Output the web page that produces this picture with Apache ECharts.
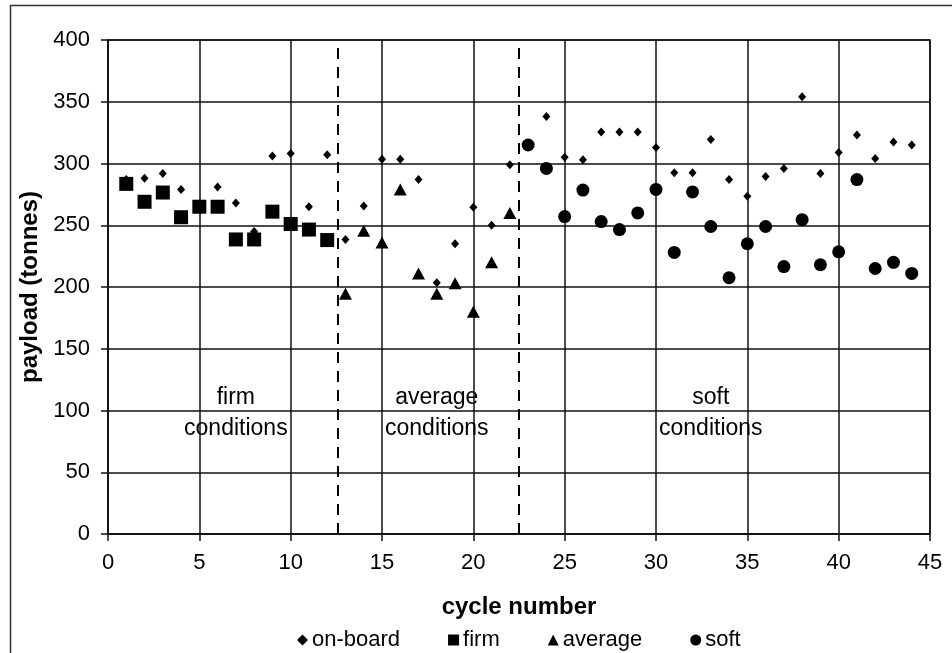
<!DOCTYPE html>
<html>
<head>
<meta charset="utf-8">
<script src="https://cdn.jsdelivr.net/npm/echarts@6/dist/echarts.min.js"></script>
<style>html,body{margin:0;padding:0;background:#fff;}#chart{width:952px;height:653px;}</style>
</head>
<body>
<div id="chart"></div>
<script>
// ---- data ----
const onboardCycles = [1,2,3,4,5,6,7,8,9,10,11,12,13,14,15,16,17,18,19,20,21,22,23,24,25,26,27,28,29,30,31,32,33,34,35,36,37,38,39,40,41,42,43,44];
const onboardPayload = [287,288,292,279,265,281,268,245,306,308,265,307,238.5,265.5,303.5,303.5,287,203.5,235,264.5,250,299,315,338,305,303,325.5,325.5,325.5,313,292.5,292.5,319.5,287,273.5,289.5,296,354,292,309,323,304,317.5,315];

const firmCycles = [1,2,3,4,5,6,7,8,9,10,11,12];
const firmPayload = [283.5,269,276.5,256.5,265,265,238.5,238.5,261,251,246.5,238];

const averageCycles = [13,14,15,16,17,18,19,20,21,22];
const averagePayload = [194.5,245.5,236,279,211,194.5,203,180,220,260];

const softCycles = [23,24,25,26,27,28,29,30,31,32,33,34,35,36,37,38,39,40,41,42,43,44];
const softPayload = [315,296,257,278.5,253,246.5,260,279,228,277,249,207.5,235,249,216.5,254.5,218,228.5,287,215,220,211];

const boundaryCycles = [12.6, 22.5];
const regionLabelX = [7, 18, 33];
const regionLabelY = [98, 98, 98];
const regionLabels = ['firm\nconditions', 'average\nconditions', 'soft\nconditions'];

const xTicks = {min: 0, max: 45, interval: 5};
const yTicks = {min: 0, max: 400, interval: 50};

const seriesNames = ['on-board', 'firm', 'average', 'soft'];

// ---- chart ----
const FONT = "'Liberation Sans', Arial, sans-serif";
const pair = (xs, ys) => xs.map((x, i) => [x, ys[i]]);
const black = {color: '#000', opacity: 1};

const chart = echarts.init(document.getElementById('chart'), null, {renderer: 'canvas'});
chart.setOption({
  animation: false,
  backgroundColor: '#fff',
  textStyle: {fontFamily: FONT},
  graphic: [{
    type: 'rect', left: 8, top: 3, shape: {x: 0, y: 0, width: 1000, height: 700},
    style: {fill: 'none', stroke: '#333', lineWidth: 1.5}, silent: true, z: 0
  }],
  grid: {left: 108, top: 40, right: 22, bottom: 119, show: true, borderColor: '#111', borderWidth: 1.5, backgroundColor: 'transparent'},
  legend: {
    data: seriesNames,
    left: 292, top: 624,
    itemWidth: 11, itemHeight: 11, itemGap: 48,
    textStyle: {fontFamily: FONT, fontSize: 22, color: '#000', padding: [0,0,0,-1]},
    selectedMode: false
  },
  xAxis: {
    type: 'value', min: xTicks.min, max: xTicks.max, interval: xTicks.interval,
    name: 'cycle number', nameLocation: 'middle', nameGap: 61,
    nameTextStyle: {fontFamily: FONT, fontSize: 24, fontWeight: 'bold', color: '#000'},
    axisLine: {show: true, onZero: false, lineStyle: {color: '#111', width: 1.5}},
    axisTick: {show: true, inside: false, length: 7, lineStyle: {color: '#111', width: 1.5}},
    axisLabel: {fontFamily: FONT, fontSize: 22, color: '#000', margin: 18},
    splitLine: {show: true, lineStyle: {color: '#111', width: 1.5}}
  },
  yAxis: {
    type: 'value', min: yTicks.min, max: yTicks.max, interval: yTicks.interval,
    name: 'payload (tonnes)', nameLocation: 'middle', nameGap: 52, nameRotate: 90,
    nameTextStyle: {fontFamily: FONT, fontSize: 24, fontWeight: 'bold', color: '#000'},
    axisLine: {show: true, lineStyle: {color: '#111', width: 1.5}},
    axisTick: {show: true, inside: false, length: 7, lineStyle: {color: '#111', width: 1.5}},
    axisLabel: {fontFamily: FONT, fontSize: 22, color: '#000', margin: 18},
    splitLine: {show: true, lineStyle: {color: '#111', width: 1.5}}
  },
  series: [
    {
      name: 'on-board', type: 'scatter', symbol: 'diamond', symbolSize: [8, 9],
      itemStyle: black, data: pair(onboardCycles, onboardPayload), z: 3,
      markLine: {
        silent: true, symbol: 'none', label: {show: false},
        lineStyle: {color: '#000', width: 2, type: [11, 8], opacity: 1},
        data: boundaryCycles.map(x => ({xAxis: x}))
      }
    },
    {
      name: 'firm', type: 'scatter', symbol: 'rect', symbolSize: 14,
      itemStyle: black, data: pair(firmCycles, firmPayload), z: 4
    },
    {
      name: 'average', type: 'scatter', symbol: 'triangle', symbolSize: [13, 12],
      itemStyle: black, data: pair(averageCycles, averagePayload), z: 4
    },
    {
      name: 'soft', type: 'scatter', symbol: 'circle', symbolSize: 13,
      itemStyle: black, data: pair(softCycles, softPayload), z: 4
    },
    {
      name: 'regions', type: 'scatter', symbolSize: 0, silent: true, z: 5,
      itemStyle: black,
      data: regionLabelX.map((x, i) => ({value: [x, regionLabelY[i]], label: {formatter: regionLabels[i]}})),
      label: {show: true, position: 'inside', fontFamily: FONT, fontSize: 23, color: '#000', opacity: 1, lineHeight: 31, align: 'center', verticalAlign: 'middle'}
    }
  ]
});
</script>
</body>
</html>
